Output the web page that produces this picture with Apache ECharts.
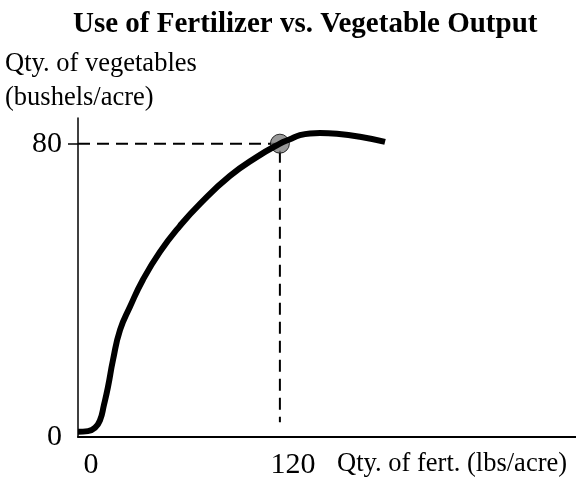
<!DOCTYPE html>
<html>
<head>
<meta charset="utf-8">
<script src="https://cdn.jsdelivr.net/npm/echarts@6/dist/echarts.min.js"></script>
<style>
  html, body { margin: 0; padding: 0; background: #ffffff; }
  #chart { width: 576px; height: 480px; }
</style>
</head>
<body>
<div id="chart"></div>
<script>
// curve (fertilizer lbs/acre -> bushels/acre)
var fertX = [0, 5.9, 10.1, 13.1, 15.4, 17.8, 20.8, 25, 30.9, 38.6, 48.7, 60.6, 72.5, 90.3, 106.4, 120, 126, 131.9, 137.9, 143.8, 153.9, 167.6, 182.5]
var vegY = [1.4, 1.6, 2.5, 4.6, 8.7, 13.6, 21, 29.2, 35.5, 42.9, 50.5, 57.6, 63.6, 71.2, 76.4, 80, 81.2, 82.3, 82.8, 82.9, 82.7, 81.9, 80.5]
// highlighted point and its guide lines
var pointX = 120
var pointY = 80
var guideX = [0, 120, 120]
var guideY = [80, 80, 4]
// tick labels
var xTicks = [0, 120]
var yTicks = [0, 80]

var serif = "'Liberation Serif', 'Times New Roman', serif"

var curve = fertX.map(function (x, i) { return [x, vegY[i]] })
var guide = guideX.map(function (x, i) { return [x, guideY[i]] })

var myChart = echarts.init(document.getElementById('chart'))
var option = {
  animation: false,
  title: [
    {
      text: 'Use of Fertilizer vs. Vegetable Output',
      left: 68,
      top: 5,
      textStyle: { fontFamily: serif, fontSize: 29, fontWeight: 'bold', color: '#000' }
    },
    {
      text: 'Qty. of vegetables\n(bushels/acre)',
      left: 5,
      top: 47,
      padding: 0,
      textStyle: { fontFamily: serif, fontSize: 26.5, fontWeight: 'normal', color: '#000', lineHeight: 34 }
    },
    {
      text: 'Qty. of fert. (lbs/acre)',
      left: 337,
      top: 451,
      padding: 0,
      textStyle: { fontFamily: serif, fontSize: 26.5, fontWeight: 'normal', color: '#000' }
    }
  ],
  grid: { left: 78, right: 0, top: 118, bottom: 43 },
  xAxis: {
    type: 'value',
    min: 0,
    max: 296,
    splitLine: { show: false },
    axisLine: { lineStyle: { color: '#000', width: 2 } },
    axisTick: { show: false },
    axisLabel: {
      customValues: xTicks,
      margin: 13,
      padding: [0, 0, 0, 26],
      fontFamily: serif,
      fontSize: 30,
      color: '#000'
    }
  },
  yAxis: {
    type: 'value',
    min: 0,
    max: 87,
    splitLine: { show: false },
    axisLine: { lineStyle: { color: '#000', width: 1.5 } },
    axisTick: {
      customValues: [80],
      length: 10,
      lineStyle: { color: '#000', width: 1.5 }
    },
    axisLabel: {
      customValues: yTicks,
      margin: 16,
      padding: [8, 0, 0, 0],
      fontFamily: serif,
      fontSize: 30,
      color: '#000'
    }
  },
  series: [
    {
      type: 'line',
      data: guide,
      symbol: 'none',
      z: 1,
      lineStyle: { color: '#000', width: 2, type: [12, 7] }
    },
    {
      type: 'scatter',
      data: [[pointX, pointY]],
      symbol: 'circle',
      symbolSize: 19,
      z: 2,
      itemStyle: { color: '#808080', borderColor: '#000', borderWidth: 1 }
    },
    {
      type: 'line',
      data: curve,
      smooth: 0.5,
      symbol: 'none',
      z: 3,
      lineStyle: { color: '#000', width: 6, cap: 'butt' }
    }
  ]
}
myChart.setOption(option)
</script>
</body>
</html>
